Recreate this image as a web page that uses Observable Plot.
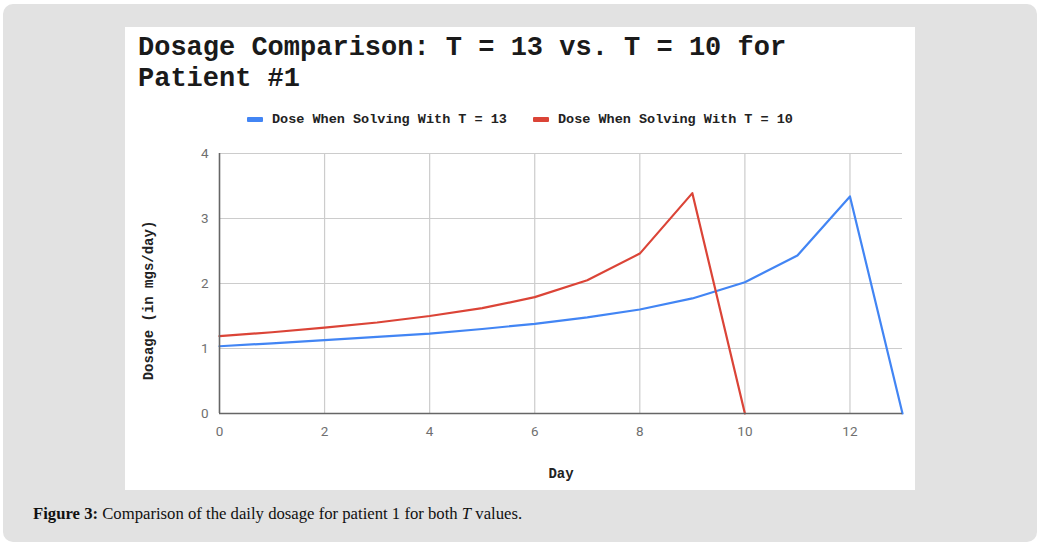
<!DOCTYPE html>
<html>
<head>
<meta charset="utf-8">
<script src="https://cdn.jsdelivr.net/npm/d3@7"></script>
<script src="https://cdn.jsdelivr.net/npm/@observablehq/plot@0.6"></script>
<style>
  html, body { margin: 0; padding: 0; background: #ffffff; }
  #frame { position: absolute; left: 3px; top: 4px; width: 1034px; height: 538px; background: #e2e2e2; border-radius: 10px; }
  #panel { position: absolute; left: 125px; top: 27px; width: 790px; height: 463px; background: #ffffff; }
  #title { position: absolute; left: 13px; top: 6px; font-family: "Liberation Mono", monospace; font-weight: bold; font-size: 27px; line-height: 31px; color: #1a1a1a; white-space: nowrap; }
  #legend { position: absolute; left: 0; top: 84px; width: 790px; font-family: "Liberation Mono", monospace; font-weight: bold; font-size: 13.5px; color: #222; white-space: nowrap; }
  .item { position: absolute; top: 0; display: flex; align-items: center; height: 16px; }
  .sw { width: 16px; height: 5px; margin-right: 9px; border-radius: 1px; }
  #chart { position: absolute; left: 0; top: 103px; }
  #caption { position: absolute; left: 33px; top: 504px; font-family: "Liberation Serif", serif; font-size: 16.7px; color: #111; white-space: nowrap; }
</style>
</head>
<body>
<div id="frame"></div>
<div id="panel">
  <div id="title">Dosage Comparison: T = 13 vs. T = 10 for<br>Patient #1</div>
  <div id="legend"></div>
  <div id="chart"></div>
</div>
<div id="caption"><b>Figure 3:</b> Comparison of the daily dosage for patient 1 for both <i>T</i> values.</div>
<script>
const seriesNames = ["Dose When Solving With T = 13", "Dose When Solving With T = 10"];
const seriesColors = ["#4285f4", "#db4437"];
const daysT13 = [0, 1, 2, 3, 4, 5, 6, 7, 8, 9, 10, 11, 12, 13];
const doseT13 = [1.035, 1.08, 1.13, 1.18, 1.23, 1.30, 1.38, 1.48, 1.60, 1.77, 2.02, 2.43, 3.34, 0];
const daysT10 = [0, 1, 2, 3, 4, 5, 6, 7, 8, 9, 10];
const doseT10 = [1.19, 1.25, 1.32, 1.40, 1.50, 1.62, 1.79, 2.05, 2.46, 3.39, 0];
const xTicks = [0, 2, 4, 6, 8, 10, 12];
const yTicks = [0, 1, 2, 3, 4];
const xLabel = "Day";
const yLabel = "Dosage (in mgs/day)";

// legend
const legend = document.getElementById("legend");
const legendX = [122, 408];
seriesNames.forEach((n, i) => {
  const it = document.createElement("div");
  it.className = "item";
  it.style.left = legendX[i] + "px";
  it.innerHTML = `<span class="sw" style="background:${seriesColors[i]}"></span><span>${n}</span>`;
  legend.appendChild(it);
});

const data = [
  ...daysT13.map((d, i) => ({day: d, dose: doseT13[i], series: seriesNames[0]})),
  ...daysT10.map((d, i) => ({day: d, dose: doseT10[i], series: seriesNames[1]}))
];

const plot = Plot.plot({
  width: 790,
  height: 360,
  marginTop: 23,
  marginBottom: 77,
  marginLeft: 94,
  marginRight: 13,
  style: {fontFamily: "Roboto, sans-serif", fontSize: "13px", background: "transparent"},
  x: {domain: [0, 13], ticks: xTicks, label: null},
  y: {domain: [0, 4], ticks: yTicks, label: null},
  color: {domain: seriesNames, range: seriesColors},
  marks: [
    Plot.gridX(xTicks.filter(d => d > 0), {stroke: "#cccccc", strokeOpacity: 1, strokeWidth: 1.2}),
    Plot.gridY(yTicks.filter(d => d > 0), {stroke: "#cccccc", strokeOpacity: 1, strokeWidth: 1.2}),
    Plot.axisX(xTicks, {tickSize: 0, tickPadding: 13, fill: "#6f6f6f", fontSize: 13.5, tickFormat: d3.format("d"), label: null}),
    Plot.axisY(yTicks, {tickSize: 0, tickPadding: 11, fill: "#6f6f6f", fontSize: 13.5, tickFormat: d3.format("d"), label: null}),
    Plot.line(data, {x: "day", y: "dose", z: "series", stroke: "series", strokeWidth: 2.2, strokeLinejoin: "round"}),
    Plot.ruleX([0], {stroke: "#666", strokeWidth: 1.6}),
    Plot.ruleY([0], {stroke: "#666", strokeWidth: 1.6}),
    Plot.text([xLabel], {frameAnchor: "bottom", dy: 64, fontFamily: "Liberation Mono, monospace", fontWeight: "bold", fontSize: 14, fill: "#222"}),
    Plot.text([yLabel], {frameAnchor: "left", textAnchor: "middle", dx: -71, dy: 17, rotate: -90, fontFamily: "Liberation Mono, monospace", fontWeight: "bold", fontSize: 14, fill: "#222"})
  ]
});
document.getElementById("chart").appendChild(plot);
</script>
</body>
</html>
